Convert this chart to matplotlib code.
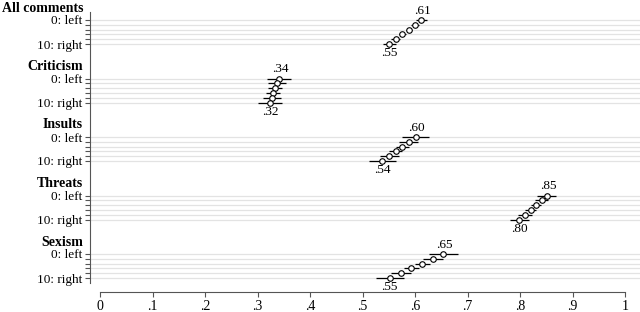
import numpy as np
import matplotlib
matplotlib.use("Agg")
import matplotlib.pyplot as plt

plt.rcParams['font.family'] = ['Liberation Serif', 'DejaVu Serif']

groups = ["All comments", "Criticism", "Insults", "Threats", "Sexism"]
row_labels = ["0: left", "", "", "", "", "10: right"]

# point estimates, rows 0 (left) .. 10 (right), every second value
est = {
    "All comments": [0.612, 0.600, 0.588, 0.576, 0.563, 0.551],
    "Criticism":    [0.341, 0.337, 0.333, 0.330, 0.327, 0.324],
    "Insults":      [0.601, 0.588, 0.576, 0.563, 0.551, 0.538],
    "Threats":      [0.851, 0.841, 0.830, 0.820, 0.810, 0.799],
    "Sexism":       [0.654, 0.634, 0.614, 0.593, 0.573, 0.552],
}
# half-widths of the confidence intervals
half = {
    "All comments": [0.011, 0.008, 0.006, 0.006, 0.008, 0.012],
    "Criticism":    [0.023, 0.017, 0.013, 0.013, 0.017, 0.023],
    "Insults":      [0.025, 0.018, 0.013, 0.013, 0.018, 0.025],
    "Threats":      [0.018, 0.013, 0.010, 0.010, 0.013, 0.019],
    "Sexism":       [0.027, 0.019, 0.014, 0.014, 0.019, 0.027],
}
xticks = np.round(np.arange(0, 1.01, 0.1), 1)

fig = plt.figure(figsize=(6.4, 3.12), dpi=100)
ax = fig.add_axes([90 / 640, 29 / 312, 550 / 640, 271 / 312])

first_top = 20.0
pitch = 58.5
step = 4.8

ytick_pos = []
ytick_lab = []
for g, name in enumerate(groups):
    top = first_top + g * pitch
    ys = top + np.arange(6) * step
    x = np.array(est[name])
    h = np.array(half[name])
    for yy in ys:
        ax.axhline(yy, color='#e3e3e3', lw=0.9, zorder=0)
    ax.hlines(ys, x - h, x + h, color='black', lw=0.9, zorder=2)
    ax.plot(x, ys, 'o', ms=4.0, mfc='white', mec='black', mew=0.8, zorder=3)
    ax.annotate("." + f"{x[0]:.2f}".split(".")[1], (x[0], ys[0]),
                xytext=(1, 2.5), textcoords='offset points',
                ha='center', va='bottom', fontsize=9.5)
    ax.annotate("." + f"{x[-1]:.2f}".split(".")[1], (x[-1], ys[-1]),
                xytext=(0, -2.5), textcoords='offset points',
                ha='center', va='top', fontsize=9.5)
    ax.annotate(name, (0, top - 12), xycoords=('axes fraction', 'data'),
                xytext=(-5, 0), textcoords='offset points',
                ha='right', va='center', fontsize=10, fontweight='bold')
    ytick_pos += list(ys)
    ytick_lab += row_labels

ax.set_yticks(ytick_pos)
ax.set_yticklabels(ytick_lab, fontsize=9.5)
ax.set_ylim(283, 12)
ax.set_xlim(-10 / 525, 540 / 525)

ax.set_xticks(xticks)
ax.set_xticklabels(["0" if v == 0 else ("1" if v == 1 else "." + str(int(round(v * 10)))) for v in xticks],
                   fontsize=9.5)

for s in ['top', 'right']:
    ax.spines[s].set_visible(False)
ax.spines['bottom'].set_position(('outward', 6.5))
ax.spines['bottom'].set_bounds(0, 1)
for s in ['left', 'bottom']:
    ax.spines[s].set_color('#555555')
    ax.spines[s].set_linewidth(0.8)
ax.tick_params(axis='both', length=3.5, width=0.8, color='#555555', pad=2)

fig.savefig("out.png", dpi=100)
